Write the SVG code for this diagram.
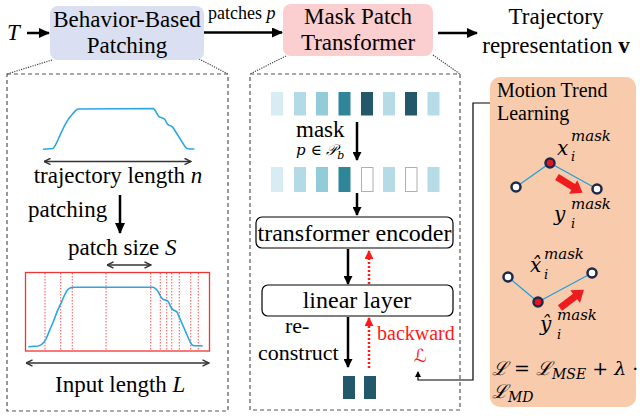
<svg xmlns="http://www.w3.org/2000/svg" width="640" height="416" viewBox="0 0 640 416">
<defs>
<marker id="ah" markerUnits="userSpaceOnUse" markerWidth="11" markerHeight="10" viewBox="0 0 11 10" refX="10" refY="5" orient="auto"><path d="M0,0 L11,5 L0,10 z" fill="#000"/></marker>
<marker id="ahs" markerUnits="userSpaceOnUse" markerWidth="9" markerHeight="9" viewBox="0 0 9 9" refX="8" refY="4.5" orient="auto"><path d="M0,0 L9,4.5 L0,9 z" fill="#000"/></marker>
<marker id="ahr" markerUnits="userSpaceOnUse" markerWidth="9" markerHeight="9" viewBox="0 0 9 9" refX="8" refY="4.5" orient="auto"><path d="M0,0 L9,4.5 L0,9 z" fill="#ff1a1a"/></marker>
<marker id="ahc" markerUnits="userSpaceOnUse" markerWidth="6" markerHeight="6" viewBox="0 0 6 6" refX="5" refY="3" orient="auto"><path d="M0,0 L6,3 L0,6 z" fill="#000"/></marker>
<marker id="dbl" markerUnits="userSpaceOnUse" markerWidth="8" markerHeight="8" viewBox="0 0 8 8" refX="7.5" refY="4" orient="auto-start-reverse"><path d="M1,0.8 L7.5,4 L1,7.2" fill="none" stroke="#333" stroke-width="1.4"/></marker>
</defs>
<style>
.t{font-family:"Liberation Serif","Times New Roman",serif;font-size:23px;fill:#000}
.m{font-family:"DejaVu Serif",serif;font-style:italic;fill:#000}
.panel{fill:none;stroke:#555;stroke-width:1.2;stroke-dasharray:4 3}
.dot{fill:none;stroke:#333;stroke-width:1.1;stroke-dasharray:1.2 1.2}
.arr{stroke:#000;stroke-width:2.5;fill:none}
.rdot{stroke:#ff1a1a;stroke-width:2.5;fill:none;stroke-dasharray:2 2}
.tb{fill:#fff;stroke:#000;stroke-width:1.2}
.vl{stroke:#ff3030;stroke-width:1.1;stroke-dasharray:1.5 1.5;opacity:0.75}
.curve{fill:none;stroke:#2aa7e2;stroke-width:1.6}
.nd{fill:#fff;stroke:#1b2a4a;stroke-width:2.5}
.nl{stroke:#1ea0dc;stroke-width:1.3}
.ra{fill:#ee1c1c}
.dk{fill:#22586a}
</style>

<g id="connectors">
<path class="dot" d="M52,60 L7,74"/>
<path class="dot" d="M199,59 L228,74"/>
<path class="dot" d="M286,56 L250,74"/>
<path class="dot" d="M433,55 L460,74"/>
<path class="arr" d="M27,33 L49,33" marker-end="url(#ah)"/>
<path class="arr" d="M204,32.5 L282,32.5" marker-end="url(#ah)"/>
<path class="arr" d="M438,33 L477,33" marker-end="url(#ah)"/>
<path d="M490,103 L473,103 L473,380 L418,380 L418,372" fill="none" stroke="#000" stroke-width="1.2" marker-end="url(#ahc)"/>
</g>

<g id="input-T"><text class="t" x="7" y="40" font-style="italic">T</text></g>

<g id="behavior-based-patching">
<rect x="50" y="6" width="154" height="54" rx="8" fill="#dae0f1"/>
<text class="t" x="127" y="27" text-anchor="middle">Behavior-Based</text>
<text class="t" x="127" y="53" text-anchor="middle">Patching</text>
</g>
<g id="patches-label"><text class="t" x="208" y="19" style="font-size:18px">patches <tspan font-style="italic">p</tspan></text></g>

<g id="mask-patch-transformer">
<rect x="283" y="4" width="150" height="52" rx="8" fill="#fbcfd0"/>
<text class="t" x="358" y="24" text-anchor="middle">Mask Patch</text>
<text class="t" x="358" y="50" text-anchor="middle">Transformer</text>
</g>

<g id="trajectory-representation">
<text class="t" x="556" y="24" text-anchor="middle">Trajectory</text>
<text class="t" x="556" y="53" text-anchor="middle">representation <tspan font-weight="bold">v</tspan></text>
</g>

<g id="patching-panel">
<rect class="panel" x="7" y="74" width="221" height="337"/>
<path class="curve" d="M43,149.3 L53,148.5 C56,146 58,139 61.7,131.7 C65,124 68,119 71.7,115 C74,112 76,109.5 78.3,109 L153.3,108.5 C156,110 157,115 159,116.7 C162,118 164,118 165,119.5 C166,122 167,124.5 169,125.2 C171,125.5 172,126 173,127.5 L185,146.7 C186,148.5 187,149 189,149 L194.3,149"/>
<path d="M44,161.5 L191,161.5" stroke="#333" stroke-width="1.4" marker-start="url(#dbl)" marker-end="url(#dbl)"/>
<text class="t" x="118" y="183" text-anchor="middle">trajectory length <tspan font-style="italic">n</tspan></text>
<text class="t" x="28" y="217">patching</text>
<path class="arr" d="M120,195 L120,233" marker-end="url(#ah)"/>
<text class="t" x="68" y="255">patch size <tspan font-style="italic">S</tspan></text>
<path d="M107,265 L151,265" stroke="#333" stroke-width="1.4" marker-start="url(#dbl)" marker-end="url(#dbl)"/>
<rect x="25.5" y="272.5" width="184" height="78.5" fill="none" stroke="#f03535" stroke-width="1.3"/>
<g>
<line class="vl" x1="45" y1="273" x2="45" y2="351"/>
<line class="vl" x1="60.7" y1="273" x2="60.7" y2="351"/>
<line class="vl" x1="72.3" y1="273" x2="72.3" y2="351"/>
<line class="vl" x1="106" y1="273" x2="106" y2="351"/>
<line class="vl" x1="150.7" y1="273" x2="150.7" y2="351"/>
<line class="vl" x1="160.3" y1="273" x2="160.3" y2="351"/>
<line class="vl" x1="166.7" y1="273" x2="166.7" y2="351"/>
<line class="vl" x1="171.7" y1="273" x2="171.7" y2="351"/>
<line class="vl" x1="179.3" y1="273" x2="179.3" y2="351"/>
<line class="vl" x1="190.7" y1="273" x2="190.7" y2="351"/>
<line class="vl" x1="198.3" y1="273" x2="198.3" y2="351"/>
</g>
<path class="curve" d="M28.3,346.7 L38,346 C42,345 44,343 46,339 C49,332 51,327 53.3,321.7 C56,314 59,307 61.7,301.7 C64,296 66,291 68.3,289 C70,287.6 71.5,287.3 73.3,287.3 L153.3,287.3 C156,288 157,290 158.3,292 C160,295 161,298.5 163.3,299.5 C166,300.5 167.5,300 168.5,302 C170,305 171,308.5 172.7,309.5 C174,310.5 175.5,310.5 177,312 L190,341.7 C191,344 192,345.7 194,345.7 L202.7,345.7"/>
<path d="M26,363 L209,363" stroke="#333" stroke-width="1.4" marker-start="url(#dbl)" marker-end="url(#dbl)"/>
<text class="t" x="55" y="392">Input length <tspan font-style="italic">L</tspan></text>
</g>

<g id="transformer-panel">
<rect class="panel" x="250" y="74" width="210" height="336"/>
<g id="tokens-top">
<rect x="271" y="92" width="12" height="23.5" fill="#d7ecf3"/>
<rect x="294" y="92" width="12" height="23.5" fill="#b3dae6"/>
<rect x="316" y="92" width="12" height="23.5" fill="#92ccdb"/>
<rect x="338.5" y="92" width="12" height="23.5" fill="#2e8698"/>
<rect x="361" y="92" width="12" height="23.5" fill="#22586a"/>
<rect x="383" y="92" width="12" height="23.5" fill="#b5dbe7"/>
<rect x="405" y="92" width="12" height="23.5" fill="#22586a"/>
<rect x="427.5" y="92" width="12" height="23.5" fill="#b6dce8"/>
</g>
<text class="t" x="296" y="137">mask</text>
<text x="296" y="155" style="font-family:'DejaVu Serif',serif;font-size:15px;font-style:italic">p <tspan font-style="normal">∈</tspan> 𝒫<tspan font-size="11" dy="4">b</tspan></text>
<path class="arr" d="M357,122 L357,160" marker-end="url(#ahs)"/>
<g id="tokens-masked">
<rect x="271" y="167" width="12" height="25" fill="#d7ecf3"/>
<rect x="294" y="167" width="12" height="25" fill="#b3dae6"/>
<rect x="316" y="167" width="12" height="25" fill="#92ccdb"/>
<rect x="338.5" y="167" width="12" height="25" fill="#2e8698"/>
<rect x="361.5" y="167.5" width="11.5" height="24" fill="#fff" stroke="#b0b0b0" stroke-width="1"/>
<rect x="383" y="167" width="12" height="25" fill="#b5dbe7"/>
<rect x="405.5" y="167.5" width="11.5" height="24" fill="#fff" stroke="#b0b0b0" stroke-width="1"/>
<rect x="427.5" y="167" width="12" height="25" fill="#b6dce8"/>
</g>
<path class="arr" d="M357,193 L357,215" marker-end="url(#ahs)"/>
<g id="transformer-encoder">
<rect class="tb" x="256" y="217" width="197" height="31" rx="6"/>
<text class="t" x="354.5" y="240.5" text-anchor="middle" style="font-size:24px">transformer encoder</text>
</g>
<path class="arr" d="M348,249 L348,284" marker-end="url(#ahs)"/>
<path class="rdot" d="M369,284 L369,251" marker-end="url(#ahr)"/>
<g id="linear-layer">
<rect class="tb" x="262" y="285" width="191" height="31" rx="6"/>
<text class="t" x="357" y="308" text-anchor="middle" style="font-size:24px">linear layer</text>
</g>
<text class="t" x="285" y="333" style="font-size:22px">re-</text>
<text class="t" x="258" y="360" style="font-size:22px">construct</text>
<path class="arr" d="M348,317 L348,367" marker-end="url(#ahs)"/>
<path class="rdot" d="M369,368 L369,318" marker-end="url(#ahr)"/>
<text class="t" x="377" y="340" style="font-size:20px;fill:#ff1a1a">backward</text>
<text x="414" y="362" style="font-family:'DejaVu Sans',sans-serif;font-size:18px;font-style:italic;fill:#ff1a1a">ℒ</text>
<rect x="343" y="376" width="12" height="23" class="dk"/>
<rect x="364" y="376" width="12" height="23" class="dk"/>
</g>

<g id="motion-trend-learning">
<rect x="490" y="77" width="146" height="330" rx="10" fill="#f8cbad"/>
<text class="t" x="497" y="97" style="font-size:20px">Motion Trend</text>
<text class="t" x="497" y="120" style="font-size:20px">Learning</text>
<line class="nl" x1="516" y1="187" x2="550" y2="163"/>
<line class="nl" x1="550" y1="163" x2="597" y2="189"/>
<circle class="nd" cx="516" cy="187" r="4.5"/>
<circle class="nd" cx="550" cy="163" r="4.5" style="fill:#e8141c"/>
<circle class="nd" cx="597" cy="189" r="4.5"/>
<path class="ra" transform="translate(557,177) rotate(31.6)" d="M0,-3.5 L19,-3.5 L19,-8 L30,0 L19,8 L19,3.5 L0,3.5 z"/>
<text class="m" x="557" y="155" style="font-size:20px">x</text>
<text class="m" x="571" y="141" style="font-size:15px">mask</text>
<text class="m" x="571" y="161" style="font-size:13px">i</text>
<text class="m" x="554" y="221" style="font-size:20px">y</text>
<text class="m" x="571" y="209" style="font-size:15px">mask</text>
<text class="m" x="571" y="228" style="font-size:13px">i</text>

<line class="nl" x1="508" y1="277" x2="538" y2="302"/>
<line class="nl" x1="538" y1="302" x2="592" y2="273"/>
<circle class="nd" cx="508" cy="277" r="4.5"/>
<circle class="nd" cx="538" cy="302" r="4.5" style="fill:#e8141c"/>
<circle class="nd" cx="592" cy="273" r="4.5"/>
<path class="ra" transform="translate(560,308) rotate(-37.2)" d="M0,-3.5 L19,-3.5 L19,-8 L30,0 L19,8 L19,3.5 L0,3.5 z"/>
<text class="m" x="530" y="272" style="font-size:20px">x̂</text>
<text class="m" x="544" y="259" style="font-size:15px">mask</text>
<text class="m" x="544" y="279" style="font-size:13px">i</text>
<text class="m" x="540" y="331" style="font-size:20px">ŷ</text>
<text class="m" x="557" y="320" style="font-size:15px">mask</text>
<text class="m" x="557" y="339" style="font-size:13px">i</text>

<text class="m" x="492" y="375" style="font-size:19px">ℒ <tspan font-style="normal">=</tspan> ℒ<tspan font-size="14" dy="4">MSE</tspan><tspan dy="-4" font-style="normal"> + </tspan>λ<tspan font-style="normal"> ·</tspan></text>
<text class="m" x="492" y="398" style="font-size:19px">ℒ<tspan font-size="14" dy="4">MD</tspan></text>
</g>
</svg>
